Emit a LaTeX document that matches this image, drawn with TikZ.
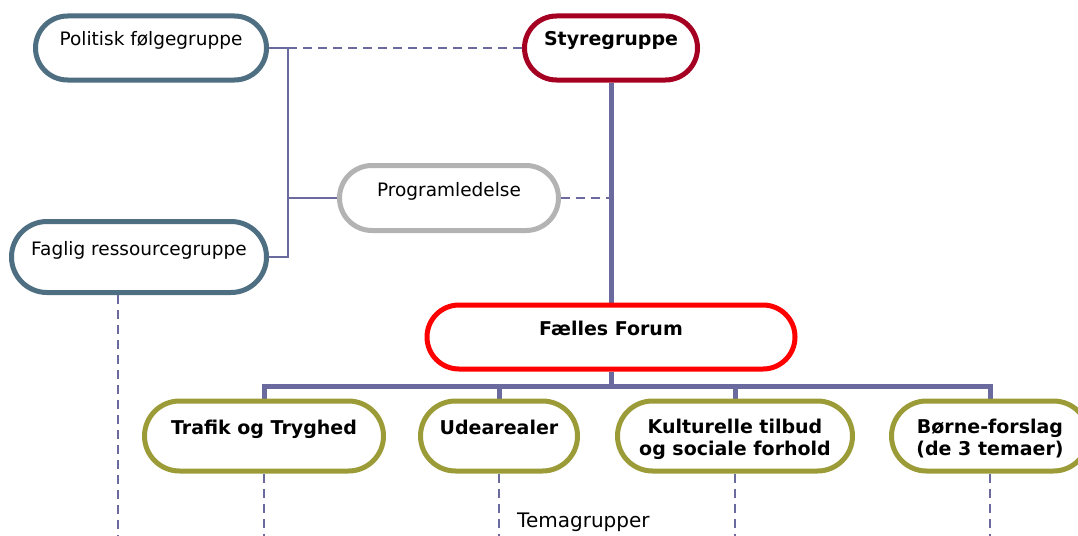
\documentclass[tikz,border=0pt]{standalone}
\usepackage{fontspec}
\setmainfont{DejaVu Sans}
\usetikzlibrary{backgrounds,shapes.misc}
\definecolor{govc}{HTML}{4E6E81}
\definecolor{styc}{HTML}{A50021}
\definecolor{progc}{HTML}{B3B3B3}
\definecolor{ffc}{HTML}{FF0000}
\definecolor{temac}{HTML}{9B9B38}
\definecolor{linec}{HTML}{6A6A9E}
\newcommand\uptext[1]{\raisebox{2pt}[0pt][0pt]{#1}}
\newcommand\uptwo[2]{\raisebox{-19pt}[0pt][0pt]{\begin{tabular}[b]{@{}c@{}}#1\\#2\end{tabular}}}
\begin{document}
\begin{tikzpicture}[x=1pt,y=-1pt,
  box/.style={draw, rounded rectangle, line width=5pt, fill=white, inner sep=0pt,
    font=\fontsize{18.5}{22}\selectfont},
  boldbox/.style={font=\fontsize{19}{22}\selectfont\bfseries},
  govbox/.style={box, draw=govc},
  stybox/.style={box, boldbox, draw=styc},
  progbox/.style={box, draw=progc},
  ffbox/.style={box, boldbox, draw=ffc},
  temabox/.style={box, boldbox, draw=temac},
  conn/.style={draw=linec, line width=2pt},
  dashconn/.style={draw=linec, line width=2.3pt, dash pattern=on 9pt off 6pt},
  thickconn/.style={draw=linec, line width=5pt, line join=miter},
]
\useasboundingbox (0,0) rectangle (1078,535);
\clip (0,0) rectangle (1078,535);

\node[govbox, minimum width=231pt, minimum height=64pt] (pol) at (151,48) {\uptext{Politisk følgegruppe}};
\node[stybox, minimum width=173pt, minimum height=64pt] (sty) at (611,48) {\uptext{Styregruppe}};
\node[progbox, minimum width=219pt, minimum height=65pt] (prog) at (449,198) {\uptext{Programledelse}};
\node[govbox, minimum width=255pt, minimum height=71pt] (fag) at (139,257) {\uptext{Faglig ressourcegruppe}};
\node[ffbox, minimum width=368pt, minimum height=64pt] (ff) at (611,337) {\uptext{Fælles Forum}};
\node[temabox, minimum width=239pt, minimum height=70pt] (tr) at (264,436) {\uptext{Trafik og Tryghed}};
\node[temabox, minimum width=157pt, minimum height=70pt] (ude) at (499,436) {\uptext{Udearealer}};
\node[temabox, minimum width=235pt, minimum height=70pt] (kul) at (735,436) {\uptwo{Kulturelle tilbud}{og sociale forhold}};
\node[temabox, minimum width=197pt, minimum height=70pt] (bor) at (990,436) {\uptwo{Børne-forslag}{(de 3 temaer)}};

\node[anchor=base west, inner sep=0pt, font=\fontsize{20}{24}\selectfont] (tema) at (517,527) {Temagrupper};

\coordinate (j1) at (288,48);
\coordinate (j2) at (288,198);
\coordinate (j3) at (288,257);
\coordinate (bar) at (611,386);
\coordinate (bottom) at (0,545);

\begin{pgfonlayer}{background}
\draw[conn] (pol.east) -- (j1) -- (j3) -- (fag.east);
\draw[conn] (j2) -- (prog.west);
\draw[dashconn] (j1) -- (sty.west);
\draw[dashconn] (prog.east) -- (prog.east -| sty.south);
\draw[thickconn] (sty.south) -- (sty.south |- ff.north);
\draw[thickconn] (ff.south) -- (ff.south |- bar);
\draw[thickconn] (tr.north) -- (tr.north |- bar) -- (bor.north |- bar) -- (bor.north);
\draw[thickconn] (ude.north) -- (ude.north |- bar);
\draw[thickconn] (kul.north) -- (kul.north |- bar);
\draw[dashconn] ([xshift=-21pt]fag.south) -- ([xshift=-21pt]fag.south |- bottom);
\draw[dashconn] (tr.south) -- (tr.south |- bottom);
\draw[dashconn] (ude.south) -- (ude.south |- bottom);
\draw[dashconn] (kul.south) -- (kul.south |- bottom);
\draw[dashconn] (bor.south) -- (bor.south |- bottom);
\end{pgfonlayer}
\end{tikzpicture}
\end{document}
